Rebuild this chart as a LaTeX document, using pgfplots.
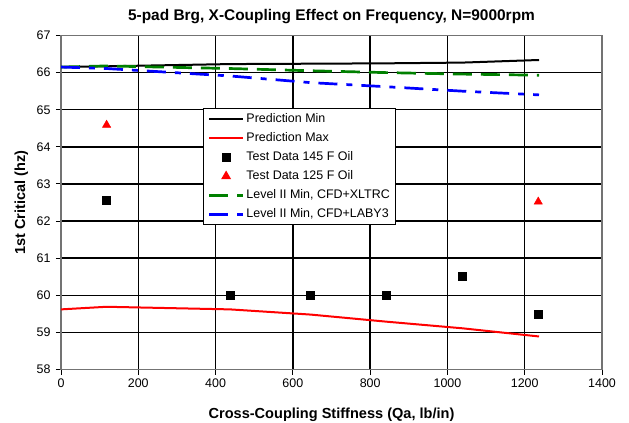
\documentclass[border=0pt]{standalone}
\usepackage{pgfplots}
\pgfplotsset{compat=1.18}
\usepackage{fontspec}
\setmainfont{Liberation Sans}
\definecolor{xlgreen}{RGB}{0,128,0}
\begin{document}
\begin{tikzpicture}
\useasboundingbox (0,0) rectangle (629bp,423bp);
\begin{axis}[
  at={(61bp,53.5bp)}, anchor=south west,
  scale only axis, width=541bp, height=334bp,
  xmin=0, xmax=1400, ymin=58, ymax=67,
  xtick={0,200,...,1400}, ytick={58,59,...,67},
  /pgf/number format/assume math mode=true,
  /pgf/number format/1000 sep={},
  tick label style={font=\fontsize{12.5}{14}\selectfont},
  tick align=outside, major tick length=5bp,
  tick style={black, line width=1bp},
  xtick pos=bottom, ytick pos=left,
  grid=major,
  major grid style={black, line width=1.4bp},
  axis line style={draw=black!55, line width=1.2bp},
  yticklabel style={xshift=-2bp},
  xticklabel style={yshift=-1bp},
  title={5-pad Brg, X-Coupling Effect on Frequency, N=9000rpm},
  title style={at={(axis description cs:0.5,1)}, anchor=base, yshift=9bp, font=\bfseries\fontsize{15.5}{18}\selectfont},
  xlabel={Cross-Coupling Stiffness (Qa, lb/in)},
  xlabel style={at={(axis description cs:0.5,0)}, anchor=base, yshift=-49bp, font=\bfseries\fontsize{14.6}{17}\selectfont},
  ylabel={1st Critical (hz)},
  ylabel style={at={(axis description cs:0,0.5)}, anchor=base, yshift=35.8bp, font=\bfseries\fontsize{14.6}{17}\selectfont},
  legend cell align=left,
  legend style={at={(0.263,0.782)}, anchor=north west, draw=black, line width=1bp, fill=white,
    font=\fontsize{12.5}{14}\selectfont, inner xsep=4bp, inner ysep=1bp, row sep=0bp,
    nodes={text height=9.5bp, text depth=2.5bp, inner ysep=3.5bp}},
  legend image code/.code={\draw[mark repeat=2,mark phase=2] plot coordinates {(0bp,0bp) (17bp,0bp) (34bp,0bp)};},
]
\addplot[black, line width=2bp] coordinates {(0,66.15) (118,66.17) (437,66.23) (646,66.24) (841,66.25) (1039,66.27) (1237,66.34)};
\addlegendentry{Prediction Min}
\addplot[red, line width=2bp] coordinates {(0,59.62) (118,59.69) (437,59.62) (646,59.48) (841,59.29) (1039,59.11) (1237,58.89)};
\addlegendentry{Prediction Max}
\addplot[only marks, mark=square*, mark size=4bp, black] coordinates {(118,62.55) (437,60) (646,60) (841,60) (1039,60.51) (1235,59.48)};
\addlegendentry{Test Data 145 F Oil}
\addplot[only marks, mark=triangle*, mark size=4.8bp, red] coordinates {(118,64.59) (1235,62.52)};
\addlegendentry{Test Data 125 F Oil}
\addplot[xlgreen, line width=2.7bp, dash pattern=on 19bp off 9bp] coordinates {(0,66.15) (118,66.18) (437,66.11) (646,66.05) (841,66.0) (1039,65.96) (1237,65.93)};
\addlegendentry{Level II Min, CFD+XLTRC}
\addplot[blue, line width=2.7bp, dash pattern=on 19bp off 9bp on 6bp off 9bp] coordinates {(0,66.15) (118,66.11) (437,65.91) (646,65.73) (841,65.62) (1039,65.5) (1237,65.4)};
\addlegendentry{Level II Min, CFD+LABY3}
\end{axis}
\end{tikzpicture}
\end{document}
